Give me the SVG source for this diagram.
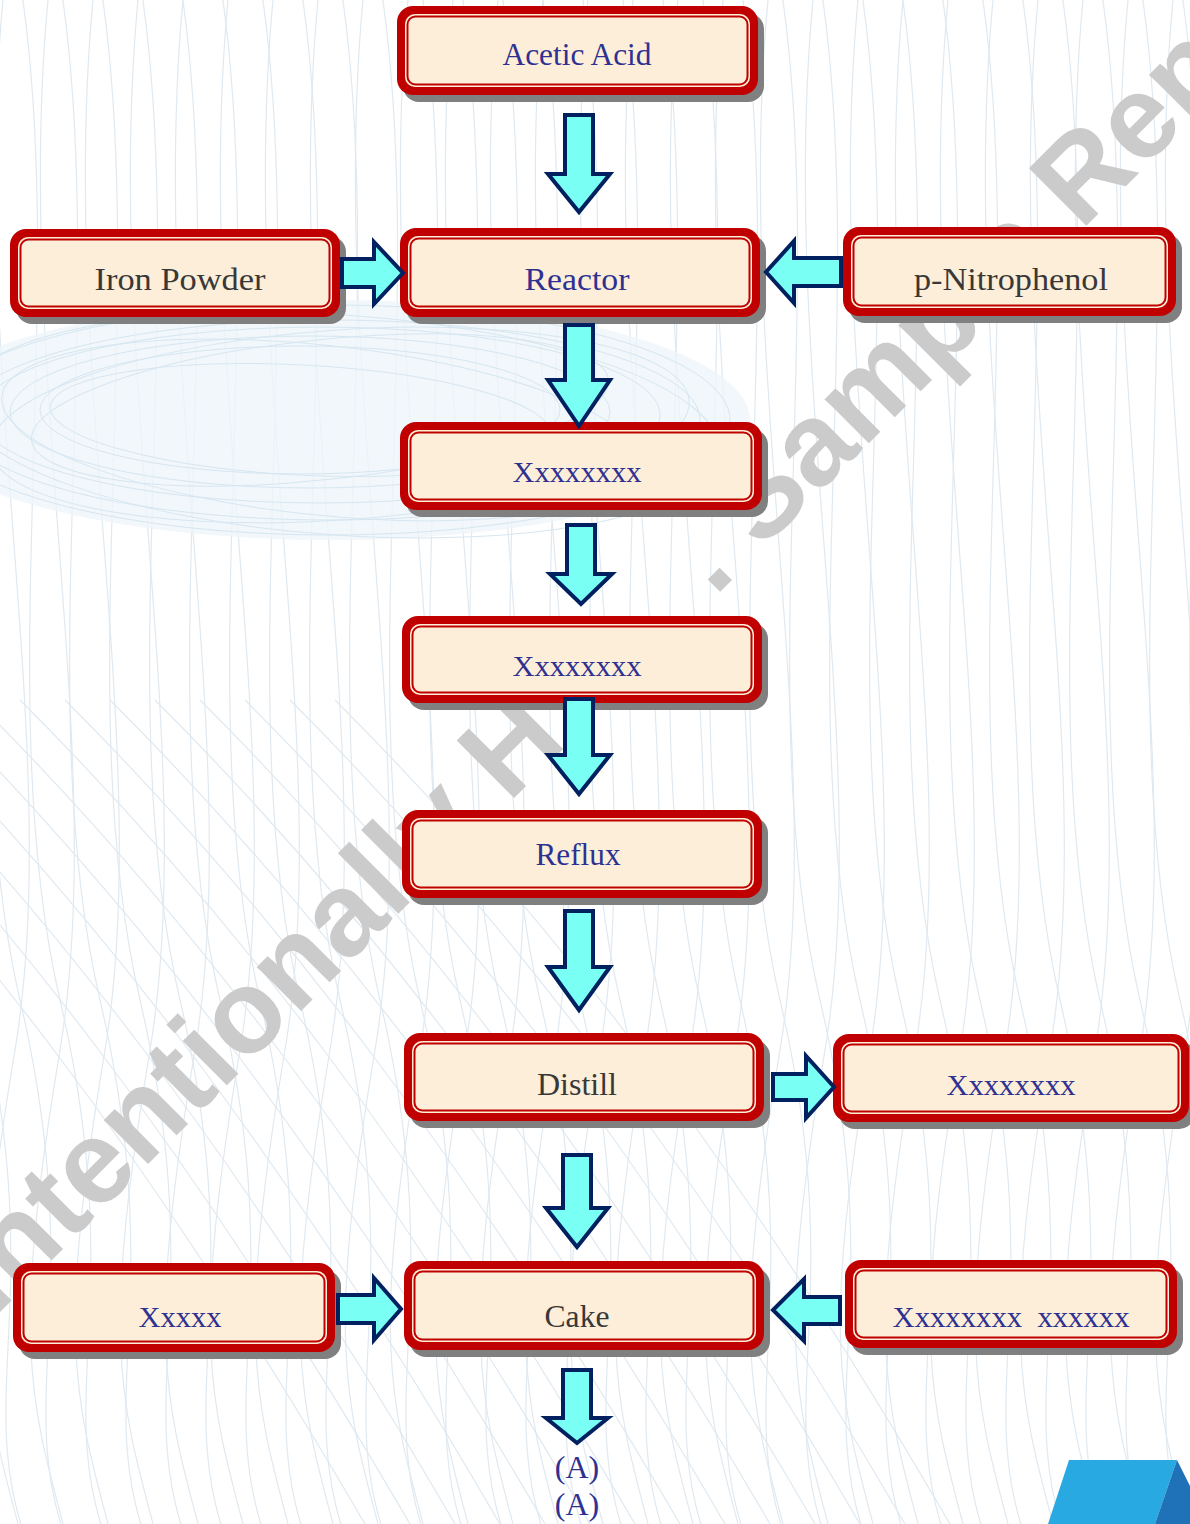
<svg xmlns="http://www.w3.org/2000/svg" xmlns:xlink="http://www.w3.org/1999/xlink" width="1190" height="1524" viewBox="0 0 1190 1524">
<defs>
<style>
.bgl{fill:none;stroke:#e0e9f0;stroke-width:1.2}
.msh{fill:none;stroke:#d6e6f0;stroke-width:1}
.wm{font-family:"Liberation Sans",Arial,sans-serif;font-weight:bold;font-size:118px;fill:#cbcbcb}
.sh{fill:#808080}
.ob{fill:#c00000}
.ib{fill:#fdeed9}
.il{fill:none;stroke:#c00000;stroke-width:2}
.tb{font-family:"Liberation Serif","Times New Roman",serif;font-size:30px;fill:#2e3192;text-anchor:middle}
.td{font-family:"Liberation Serif","Times New Roman",serif;font-size:30px;fill:#383838;text-anchor:middle}
.cb{font-size:32px}
.ar{fill:#7afff4;stroke:#002060;stroke-width:4;stroke-linejoin:miter}
</style>
<path id="w1" d="M0,-20 C50,300 -30,700 40,1000 S30,1400 90,1550"/>
<path id="w2" d="M0,-20 C-40,350 60,750 10,1050 S-20,1400 20,1550"/>
<path id="w3" d="M-250,700 C-50,900 150,1150 380,1550"/>
</defs>
<rect x="0" y="0" width="1190" height="1524" fill="#ffffff"/>
<g id="background">
<g class="bgl">
<use xlink:href="#w1" x="-60"/><use xlink:href="#w1" x="-20"/><use xlink:href="#w1" x="20"/><use xlink:href="#w1" x="60"/><use xlink:href="#w1" x="100"/><use xlink:href="#w1" x="140"/><use xlink:href="#w1" x="180"/><use xlink:href="#w1" x="220"/><use xlink:href="#w1" x="260"/><use xlink:href="#w1" x="300"/><use xlink:href="#w1" x="340"/><use xlink:href="#w1" x="380"/><use xlink:href="#w1" x="420"/><use xlink:href="#w1" x="460"/><use xlink:href="#w1" x="500"/><use xlink:href="#w1" x="540"/><use xlink:href="#w1" x="580"/><use xlink:href="#w1" x="620"/><use xlink:href="#w1" x="660"/><use xlink:href="#w1" x="700"/><use xlink:href="#w1" x="740"/><use xlink:href="#w1" x="780"/><use xlink:href="#w1" x="820"/><use xlink:href="#w1" x="860"/><use xlink:href="#w1" x="900"/><use xlink:href="#w1" x="940"/><use xlink:href="#w1" x="980"/><use xlink:href="#w1" x="1020"/><use xlink:href="#w1" x="1060"/><use xlink:href="#w1" x="1100"/><use xlink:href="#w1" x="1140"/><use xlink:href="#w1" x="1180"/>
<use xlink:href="#w2" x="-40"/><use xlink:href="#w2" x="5"/><use xlink:href="#w2" x="50"/><use xlink:href="#w2" x="95"/><use xlink:href="#w2" x="140"/><use xlink:href="#w2" x="185"/><use xlink:href="#w2" x="230"/><use xlink:href="#w2" x="275"/><use xlink:href="#w2" x="320"/><use xlink:href="#w2" x="365"/><use xlink:href="#w2" x="410"/><use xlink:href="#w2" x="455"/><use xlink:href="#w2" x="500"/><use xlink:href="#w2" x="545"/><use xlink:href="#w2" x="590"/><use xlink:href="#w2" x="635"/><use xlink:href="#w2" x="680"/><use xlink:href="#w2" x="725"/><use xlink:href="#w2" x="770"/><use xlink:href="#w2" x="815"/><use xlink:href="#w2" x="860"/><use xlink:href="#w2" x="905"/><use xlink:href="#w2" x="950"/><use xlink:href="#w2" x="995"/><use xlink:href="#w2" x="1040"/><use xlink:href="#w2" x="1085"/><use xlink:href="#w2" x="1130"/><use xlink:href="#w2" x="1175"/>
<use xlink:href="#w3" x="0"/><use xlink:href="#w3" x="45"/><use xlink:href="#w3" x="90"/><use xlink:href="#w3" x="135"/><use xlink:href="#w3" x="180"/><use xlink:href="#w3" x="225"/><use xlink:href="#w3" x="270"/><use xlink:href="#w3" x="315"/><use xlink:href="#w3" x="360"/><use xlink:href="#w3" x="405"/><use xlink:href="#w3" x="450"/><use xlink:href="#w3" x="495"/><use xlink:href="#w3" x="540"/><use xlink:href="#w3" x="585"/>
</g>
<ellipse cx="330" cy="420" rx="420" ry="120" fill="#eef5fa" opacity="0.8"/>
<g class="msh">
<ellipse cx="330" cy="420" rx="400" ry="115"/>
<ellipse cx="330" cy="420" rx="370" ry="100"/>
<ellipse cx="320" cy="415" rx="340" ry="88"/>
<ellipse cx="310" cy="412" rx="300" ry="76"/>
<ellipse cx="300" cy="410" rx="260" ry="64"/>
<ellipse cx="340" cy="425" rx="380" ry="110" transform="rotate(4 340 425)"/>
<ellipse cx="340" cy="425" rx="350" ry="95" transform="rotate(-4 340 425)"/>
<ellipse cx="320" cy="430" rx="320" ry="85" transform="rotate(6 320 430)"/>
<ellipse cx="320" cy="410" rx="290" ry="70" transform="rotate(-6 320 410)"/>
<ellipse cx="300" cy="420" rx="250" ry="55" transform="rotate(3 300 420)"/>
</g>
<polygon points="1069,1460 1177,1460 1155,1524 1048,1524" fill="#29a9e1"/>
<polygon points="1177,1460 1190,1486 1190,1524 1155,1524" fill="#1f72b8"/>
</g>
<text id="watermark" class="wm" transform="translate(-6,1318) rotate(-45)">Intentionally H<tspan dx="206">. Sample Report</tspan></text>
<g id="nodes">
<g id="acetic-acid">
<rect class="sh" x="403" y="13" width="361" height="89" rx="16"/>
<rect class="ob" x="397" y="6" width="361" height="89" rx="16"/>
<rect class="ib" x="405" y="14" width="345" height="73" rx="10"/>
<rect class="il" x="407.5" y="16.5" width="340" height="68" rx="8"/>
<text class="tb cb" x="577" y="65" textLength="149" lengthAdjust="spacingAndGlyphs">Acetic Acid</text>
</g>
<g id="iron-powder">
<rect class="sh" x="16" y="236" width="330" height="88" rx="16"/>
<rect class="ob" x="10" y="229" width="330" height="88" rx="16"/>
<rect class="ib" x="18" y="237" width="314" height="72" rx="10"/>
<rect class="il" x="20.5" y="239.5" width="309" height="67" rx="8"/>
<text class="td cb" x="180" y="290" textLength="171" lengthAdjust="spacingAndGlyphs">Iron Powder</text>
</g>
<g id="reactor">
<rect class="sh" x="406" y="235" width="360" height="89" rx="16"/>
<rect class="ob" x="400" y="228" width="360" height="89" rx="16"/>
<rect class="ib" x="408" y="236" width="344" height="73" rx="10"/>
<rect class="il" x="410.5" y="238.5" width="339" height="68" rx="8"/>
<text class="tb cb" x="577" y="290" textLength="105" lengthAdjust="spacingAndGlyphs">Reactor</text>
</g>
<g id="p-nitrophenol">
<rect class="sh" x="849" y="234" width="333" height="89" rx="16"/>
<rect class="ob" x="843" y="227" width="333" height="89" rx="16"/>
<rect class="ib" x="851" y="235" width="317" height="73" rx="10"/>
<rect class="il" x="853.5" y="237.5" width="312" height="68" rx="8"/>
<text class="td cb" x="1011" y="290" textLength="194" lengthAdjust="spacingAndGlyphs">p-Nitrophenol</text>
</g>
<g id="step-1">
<rect class="sh" x="406" y="429" width="362" height="88" rx="16"/>
<rect class="ob" x="400" y="422" width="362" height="88" rx="16"/>
<rect class="ib" x="408" y="430" width="346" height="72" rx="10"/>
<rect class="il" x="410.5" y="432.5" width="341" height="67" rx="8"/>
<text class="tb" x="577" y="482" textLength="129" lengthAdjust="spacingAndGlyphs">Xxxxxxxx</text>
</g>
<g id="step-2">
<rect class="sh" x="408" y="623" width="360" height="87" rx="16"/>
<rect class="ob" x="402" y="616" width="360" height="87" rx="16"/>
<rect class="ib" x="410" y="624" width="344" height="71" rx="10"/>
<rect class="il" x="412.5" y="626.5" width="339" height="66" rx="8"/>
<text class="tb" x="577" y="676" textLength="129" lengthAdjust="spacingAndGlyphs">Xxxxxxxx</text>
</g>
<g id="reflux">
<rect class="sh" x="408" y="817" width="360" height="88" rx="16"/>
<rect class="ob" x="402" y="810" width="360" height="88" rx="16"/>
<rect class="ib" x="410" y="818" width="344" height="72" rx="10"/>
<rect class="il" x="412.5" y="820.5" width="339" height="67" rx="8"/>
<text class="tb cb" x="578" y="865" textLength="85" lengthAdjust="spacingAndGlyphs">Reflux</text>
</g>
<g id="distill">
<rect class="sh" x="410" y="1040" width="360" height="88" rx="16"/>
<rect class="ob" x="404" y="1033" width="360" height="88" rx="16"/>
<rect class="ib" x="412" y="1041" width="344" height="72" rx="10"/>
<rect class="il" x="414.5" y="1043.5" width="339" height="67" rx="8"/>
<text class="td cb" x="577" y="1095" textLength="80" lengthAdjust="spacingAndGlyphs">Distill</text>
</g>
<g id="distillate">
<rect class="sh" x="839" y="1041" width="356" height="88" rx="16"/>
<rect class="ob" x="833" y="1034" width="356" height="88" rx="16"/>
<rect class="ib" x="841" y="1042" width="340" height="72" rx="10"/>
<rect class="il" x="843.5" y="1044.5" width="335" height="67" rx="8"/>
<text class="tb" x="1011" y="1095" textLength="129" lengthAdjust="spacingAndGlyphs">Xxxxxxxx</text>
</g>
<g id="xxxxx">
<rect class="sh" x="19" y="1270" width="322" height="89" rx="16"/>
<rect class="ob" x="13" y="1263" width="322" height="89" rx="16"/>
<rect class="ib" x="21" y="1271" width="306" height="73" rx="10"/>
<rect class="il" x="23.5" y="1273.5" width="301" height="68" rx="8"/>
<text class="tb" x="180" y="1327" textLength="83" lengthAdjust="spacingAndGlyphs">Xxxxx</text>
</g>
<g id="cake">
<rect class="sh" x="410" y="1268" width="360" height="89" rx="16"/>
<rect class="ob" x="404" y="1261" width="360" height="89" rx="16"/>
<rect class="ib" x="412" y="1269" width="344" height="73" rx="10"/>
<rect class="il" x="414.5" y="1271.5" width="339" height="68" rx="8"/>
<text class="td cb" x="577" y="1327" textLength="65" lengthAdjust="spacingAndGlyphs">Cake</text>
</g>
<g id="xxxxxxxx-xxxxxx">
<rect class="sh" x="851" y="1267" width="332" height="88" rx="16"/>
<rect class="ob" x="845" y="1260" width="332" height="88" rx="16"/>
<rect class="ib" x="853" y="1268" width="316" height="72" rx="10"/>
<rect class="il" x="855.5" y="1270.5" width="311" height="67" rx="8"/>
<text class="tb" x="1011" y="1327" style="white-space:pre" textLength="237" lengthAdjust="spacingAndGlyphs">Xxxxxxxx  xxxxxx</text>
</g>
<g id="output-a">
<text class="tb cb" x="577" y="1478">(A)</text>
<text class="tb cb" x="577" y="1515">(A)</text>
</g>
</g>
<g id="connectors">
<path class="ar" d="M565,115 H593 V174 H610 L579,212 L548,174 H565 Z"/>
<path class="ar" d="M565,325 H593 V380 H610 L579,426 L548,380 H565 Z"/>
<path class="ar" d="M567,525 H595 V574 H612 L581,604 L550,574 H567 Z"/>
<path class="ar" d="M565,699 H593 V755 H610 L579,794 L548,755 H565 Z"/>
<path class="ar" d="M565,911 H593 V967 H610 L579,1010 L548,967 H565 Z"/>
<path class="ar" d="M563,1155 H591 V1208 H608 L577,1247 L546,1208 H563 Z"/>
<path class="ar" d="M563,1370 H591 V1418 H608 L577,1443 L546,1418 H563 Z"/>
<path class="ar" d="M342,259 H374 V242 L403,273 L374,304 V287 H342 Z"/>
<path class="ar" d="M841,258 H794 V241 L766,272 L794,303 V286 H841 Z"/>
<path class="ar" d="M773,1074 H806 V1056 L834,1087 L806,1118 V1100 H773 Z"/>
<path class="ar" d="M338,1295 H374 V1278 L401,1309 L374,1340 V1323 H338 Z"/>
<path class="ar" d="M840,1297 H804 V1279 L773,1310 L804,1341 V1324 H840 Z"/>
</g>
</svg>
